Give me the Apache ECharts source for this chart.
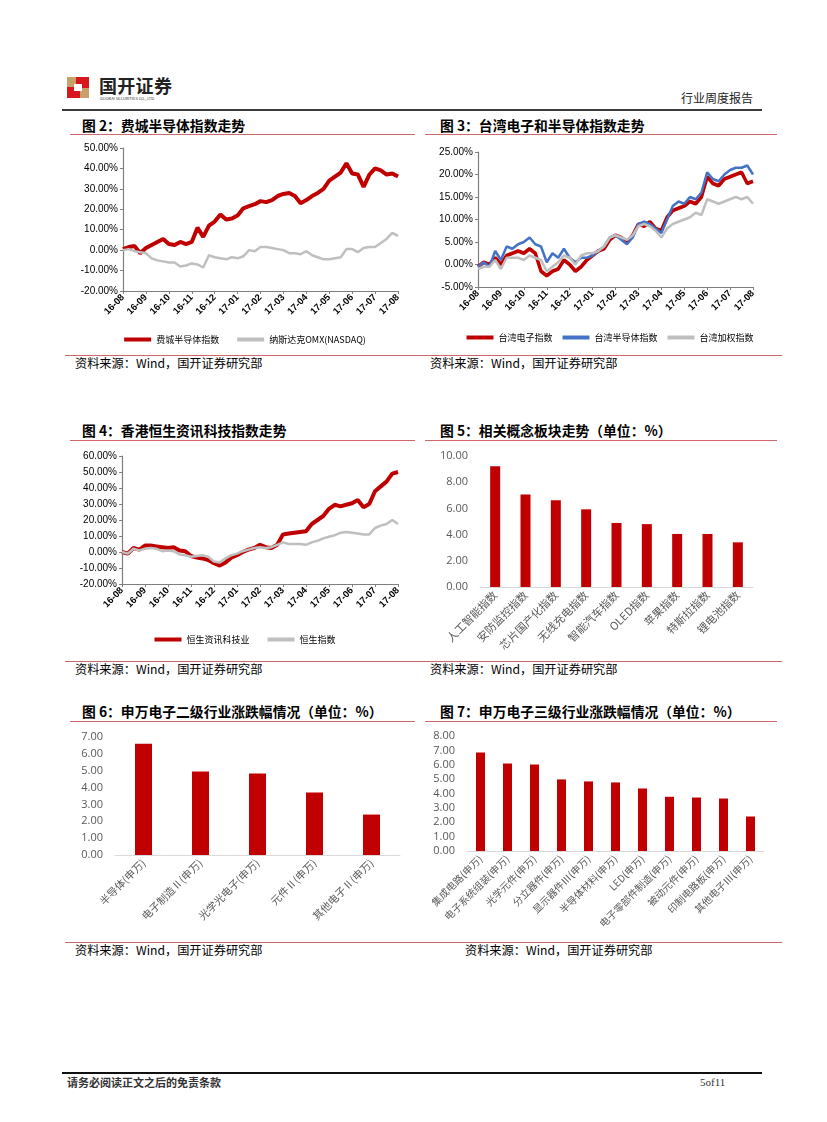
<!DOCTYPE html>
<html><head><meta charset="utf-8">
<script src="https://cdn.jsdelivr.net/npm/echarts@6/dist/echarts.min.js"></script>
<style>
body{margin:0;background:#fff;width:827px;height:1122px;position:relative;overflow:hidden;font-family:"Noto Sans CJK SC",sans-serif;}
.t{position:absolute;white-space:nowrap;color:#000;}
.ttl{font-size:13.8px;font-weight:700;line-height:15px;}
.src{font-size:12.2px;line-height:13px;}
.rl{position:absolute;height:1px;background:#D0676A;}
.c{position:absolute;}
</style></head><body>

<!-- header -->
<div class="c" style="left:67px;top:77px;width:22px;height:21px;background:#D7161E;"></div>
<div class="c" style="left:67px;top:77px;width:9px;height:10px;background:#C9A06A;"></div>
<div class="c" style="left:80px;top:88px;width:9px;height:10px;background:#C9A06A;"></div>
<div class="c" style="left:74px;top:84px;width:8px;height:7px;background:#fff;"></div>
<div class="t" style="left:99px;top:76px;font-size:18px;font-weight:700;line-height:19px;letter-spacing:0.3px;color:#222;">国开证券</div>
<div class="t" style="left:100px;top:96px;font-size:4px;line-height:4px;color:#333;">GUOKAI SECURITIES CO., LTD.</div>
<div class="t" style="left:681px;top:91px;font-size:12px;line-height:13px;color:#222;">行业周度报告</div>
<div class="c" style="left:62px;top:109px;width:700px;height:2px;background:#3a3a3a;"></div>

<!-- titles -->
<div class="t ttl" style="left:82px;top:118px;">图 2：费城半导体指数走势</div>
<div class="t ttl" style="left:440px;top:118px;">图 3：台湾电子和半导体指数走势</div>
<div class="rl" style="left:70px;top:134px;width:345px;"></div>
<div class="rl" style="left:425px;top:134px;width:352px;"></div>

<div class="t ttl" style="left:82px;top:423px;">图 4：香港恒生资讯科技指数走势</div>
<div class="t ttl" style="left:440px;top:423px;">图 5：相关概念板块走势（单位：%）</div>
<div class="rl" style="left:70px;top:440px;width:345px;"></div>
<div class="rl" style="left:425px;top:440px;width:352px;"></div>

<div class="t ttl" style="left:82px;top:704px;">图 6：申万电子二级行业涨跌幅情况（单位：%）</div>
<div class="t ttl" style="left:440px;top:704px;">图 7：申万电子三级行业涨跌幅情况（单位：%）</div>
<div class="rl" style="left:70px;top:721px;width:345px;"></div>
<div class="rl" style="left:425px;top:721px;width:352px;"></div>

<!-- sources -->
<div class="rl" style="left:65px;top:355px;width:717px;"></div>
<div class="t src" style="left:75px;top:357px;">资料来源：Wind，国开证券研究部</div>
<div class="t src" style="left:430px;top:357px;">资料来源：Wind，国开证券研究部</div>
<div class="rl" style="left:65px;top:661px;width:717px;"></div>
<div class="t src" style="left:75px;top:663px;">资料来源：Wind，国开证券研究部</div>
<div class="t src" style="left:430px;top:663px;">资料来源：Wind，国开证券研究部</div>
<div class="rl" style="left:65px;top:942px;width:717px;"></div>
<div class="t src" style="left:75px;top:944px;">资料来源：Wind，国开证券研究部</div>
<div class="t src" style="left:465px;top:944px;">资料来源：Wind，国开证券研究部</div>

<!-- footer -->
<div class="c" style="left:62px;top:1072px;width:700px;height:2px;background:#111;"></div>
<div class="t" style="left:67px;top:1076px;font-size:11px;font-weight:700;line-height:12px;color:#333;">请务必阅读正文之后的免责条款</div>
<div class="t" style="left:700px;top:1076px;font-size:11px;line-height:12px;font-family:'Liberation Serif',serif;color:#333;">5of11</div>

<!-- charts -->
<div id="f2" class="c" style="left:70px;top:138px;width:350px;height:215px;"></div>
<div id="f3" class="c" style="left:425px;top:138px;width:370px;height:215px;"></div>
<div id="f4" class="c" style="left:70px;top:445px;width:350px;height:210px;"></div>
<div id="f5" class="c" style="left:425px;top:445px;width:370px;height:215px;"></div>
<div id="f6" class="c" style="left:70px;top:725px;width:350px;height:215px;"></div>
<div id="f7" class="c" style="left:425px;top:725px;width:370px;height:215px;"></div>

<script>
// ---------- data ----------
const months = ['16-08','16-09','16-10','16-11','16-12','17-01','17-02','17-03','17-04','17-05','17-06','17-07','17-08'];

const fig2Sox = [0.5,1.5,2.0,-1.5,1.0,2.5,4.0,5.5,3.0,2.5,4.0,3.0,4.0,11.0,6.5,12.0,14.0,17.5,15.0,15.5,17.0,20.5,21.5,22.5,24.0,23.5,24.5,26.5,27.5,28.0,26.5,23.0,24.5,26.5,28.0,30.0,34.0,36.0,38.0,42.5,37.5,37.0,31.0,37.0,40.0,39.0,37.0,37.5,36.0];
const fig2Nasdaq = [0,0.5,-0.5,-1.0,-1.5,-4.0,-5.0,-5.5,-6.0,-6.0,-8.0,-7.5,-6.5,-7.0,-8.5,-2.5,-3.5,-4.0,-4.5,-3.5,-4.0,-3.0,0.0,-0.5,1.5,1.5,1.0,0.5,0.0,-1.5,-1.5,-2.0,-0.5,-2.5,-3.5,-4.5,-4.5,-4.0,-3.5,0.5,0.5,-1.0,1.0,1.5,1.5,3.5,5.5,8.5,7.0];

const fig3Elec = [-0.5,0.5,0.0,1.5,0.0,2.0,2.5,3.0,2.5,3.5,2.5,-1.5,-2.5,-1.5,-1.0,1.0,0.0,-1.5,-0.5,1.0,2.0,3.0,3.5,5.5,6.5,6.0,5.0,6.5,9.0,8.5,9.5,8.0,7.5,10.5,12.0,12.5,13.0,14.0,13.5,15.0,19.5,18.0,17.5,19.0,19.5,20.0,20.5,18.0,18.5];
const fig3Semi = [-0.5,0.5,-0.5,3.0,1.0,4.0,3.5,4.5,5.0,6.0,4.5,4.0,0.5,2.5,1.5,3.5,1.5,0.5,1.5,1.5,2.0,3.0,4.0,6.0,6.5,5.5,4.5,6.0,9.0,9.5,9.0,8.0,7.0,10.0,13.0,14.0,13.5,15.0,14.5,16.0,20.5,19.0,18.5,20.0,21.0,21.5,21.5,22.0,20.0];
const fig3Taiex = [-1.0,-0.5,-0.5,1.0,-1.0,1.5,1.5,1.5,1.0,2.0,1.5,1.0,-1.5,-0.5,0.5,2.0,1.5,0.0,2.0,2.5,2.5,3.0,4.0,6.0,6.5,6.0,5.5,6.5,8.5,9.0,8.5,7.5,6.0,8.0,9.0,9.5,10.0,10.5,11.5,11.0,14.5,14.0,13.5,14.0,14.5,15.0,14.5,15.0,13.5];

const fig4Tech = [0,-1,2.5,1.5,4.0,4.0,3.5,3.0,2.5,3.0,1.0,0.5,-2.5,-3.5,-4.0,-5.0,-7.0,-8.5,-6.5,-3.5,-2.0,0.0,1.5,2.5,4.5,3.0,2.5,4.5,11.0,11.5,12.0,12.5,13.0,17.5,20.0,22.5,27.0,29.5,28.5,29.5,30.5,32.5,28.0,30.0,38.0,41.0,44.0,49.0,50.0];
const fig4Hsi = [0,-1,2,1,2,2.5,2,0.5,1,0.5,-1.5,-2,-3,-2.5,-2,-3,-6,-6.5,-4,-2,-1,0.5,1.5,2.5,3,2.5,3,4.5,6,5,5,5,4.5,6,7,8.5,9.5,10.5,12,12.5,12,11.5,11,11,15,16.5,17.5,20,17.5];

const fig5Cats = ['人工智能指数','安防监控指数','芯片国产化指数','无线充电指数','智能汽车指数','OLED指数','苹果指数','特斯拉指数','锂电池指数'];
const fig5Vals = [9.21,7.07,6.62,5.93,4.89,4.80,4.05,4.05,3.41];

const fig6Cats = ['半导体(申万)','电子制造Ⅱ(申万)','光学光电子(申万)','元件Ⅱ(申万)','其他电子Ⅱ(申万)'];
const fig6Vals = [6.60,4.95,4.83,3.71,2.40];

const fig7Cats = ['集成电路(申万)','电子系统组装(申万)','光学元件(申万)','分立器件(申万)','显示器件Ⅲ(申万)','半导体材料(申万)','LED(申万)','电子零部件制造(申万)','被动元件(申万)','印制电路板(申万)','其他电子Ⅲ(申万)'];
const fig7Vals = [6.86,6.09,6.02,4.98,4.84,4.77,4.35,3.77,3.72,3.65,2.40];

// ---------- helpers ----------
const STEPS = 4;
const xCats = [];
for (let i = 0; i < months.length - 1; i++) for (let k = 0; k < STEPS; k++) xCats.push(months[i] + '|' + k);
xCats.push(months[months.length - 1] + '|0');

const AX = '#7F7F7F';
const LF = 'Liberation Sans';

function lineChart(id, grid, yMin, yMax, yInt, series, legendTop, legendGap) {
  const ch = echarts.init(document.getElementById(id), null, {renderer: 'canvas'});
  ch.setOption({
    animation: false,
    grid: grid,
    legend: {
      top: legendTop, left: 'center', icon: 'rect', itemWidth: 27, itemHeight: 4, itemGap: legendGap,
      textStyle: {fontSize: 9, color: '#000', fontFamily: 'Noto Sans CJK SC'},
      data: series.map(s => s.name)
    },
    xAxis: {
      type: 'category', data: xCats, boundaryGap: false,
      axisLine: {onZero: false, lineStyle: {color: AX, width: 1.2}},
      axisTick: {show: true, interval: STEPS - 1, length: 3, lineStyle: {color: AX}},
      axisLabel: {interval: STEPS - 1, rotate: 45, fontSize: 9.5, fontWeight: 'bold', color: '#000', fontFamily: LF, margin: 5,
        formatter: v => v.split('|')[0]},
      splitLine: {show: false}
    },
    yAxis: {
      type: 'value', min: yMin, max: yMax, interval: yInt,
      axisLine: {show: true, lineStyle: {color: AX, width: 1.2}},
      axisTick: {show: true, length: 3, lineStyle: {color: AX}},
      axisLabel: {fontSize: 10, color: '#000', fontFamily: LF, margin: 5, formatter: v => v.toFixed(2) + '%'},
      splitLine: {show: false}
    },
    series: series.map(s => ({
      name: s.name, type: 'line', data: s.data, symbol: 'none', smooth: false,
      lineStyle: {color: s.color, width: s.width}, itemStyle: {color: s.color}
    }))
  });
}

function barChart(id, grid, cats, vals, yMax, yInt, barW, labelSize) {
  const ch = echarts.init(document.getElementById(id), null, {renderer: 'canvas'});
  ch.setOption({
    animation: false,
    grid: grid,
    xAxis: {
      type: 'category', data: cats,
      axisLine: {lineStyle: {color: '#D9D9D9', width: 1}},
      axisTick: {show: false},
      axisLabel: {interval: 0, rotate: 45, fontSize: labelSize, color: '#595959', fontFamily: 'Noto Sans CJK SC', margin: 6}
    },
    yAxis: {
      type: 'value', min: 0, max: yMax, interval: yInt,
      axisLine: {show: false}, axisTick: {show: false}, splitLine: {show: false},
      axisLabel: {fontSize: 11, color: '#595959', fontFamily: 'Open Sans', margin: 12, formatter: v => v.toFixed(2)}
    },
    series: [{type: 'bar', data: vals, barWidth: barW, itemStyle: {color: '#C00000'}}]
  });
}

// ---------- charts ----------
lineChart('f2', {left: 53, top: 10, width: 275, height: 143}, -20, 50, 10, [
  {name: '费城半导体指数', data: fig2Sox, color: '#C00000', width: 4},
  {name: '纳斯达克OMX(NASDAQ)', data: fig2Nasdaq, color: '#BFBFBF', width: 2.5}
], 192, 18);

lineChart('f3', {left: 53, top: 14, width: 275, height: 135}, -5, 25, 5, [
  {name: '台湾电子指数', data: fig3Elec, color: '#C00000', width: 3.5},
  {name: '台湾半导体指数', data: fig3Semi, color: '#4472C4', width: 2.5},
  {name: '台湾加权指数', data: fig3Taiex, color: '#BFBFBF', width: 2.5}
], 190, 10);

lineChart('f4', {left: 52, top: 11, width: 276, height: 128}, -20, 60, 10, [
  {name: '恒生资讯科技业', data: fig4Tech, color: '#C00000', width: 4},
  {name: '恒生指数', data: fig4Hsi, color: '#BFBFBF', width: 2.5}
], 185, 18);

barChart('f5', {left: 55, top: 11, width: 273, height: 131}, fig5Cats, fig5Vals, 10, 2, 10, 11);
barChart('f6', {left: 45, top: 12, width: 285, height: 118}, fig6Cats, fig6Vals, 7, 1, 17, 10.5);
barChart('f7', {left: 42, top: 11, width: 297, height: 115}, fig7Cats, fig7Vals, 8, 1, 9, 10);
</script>
</body></html>
